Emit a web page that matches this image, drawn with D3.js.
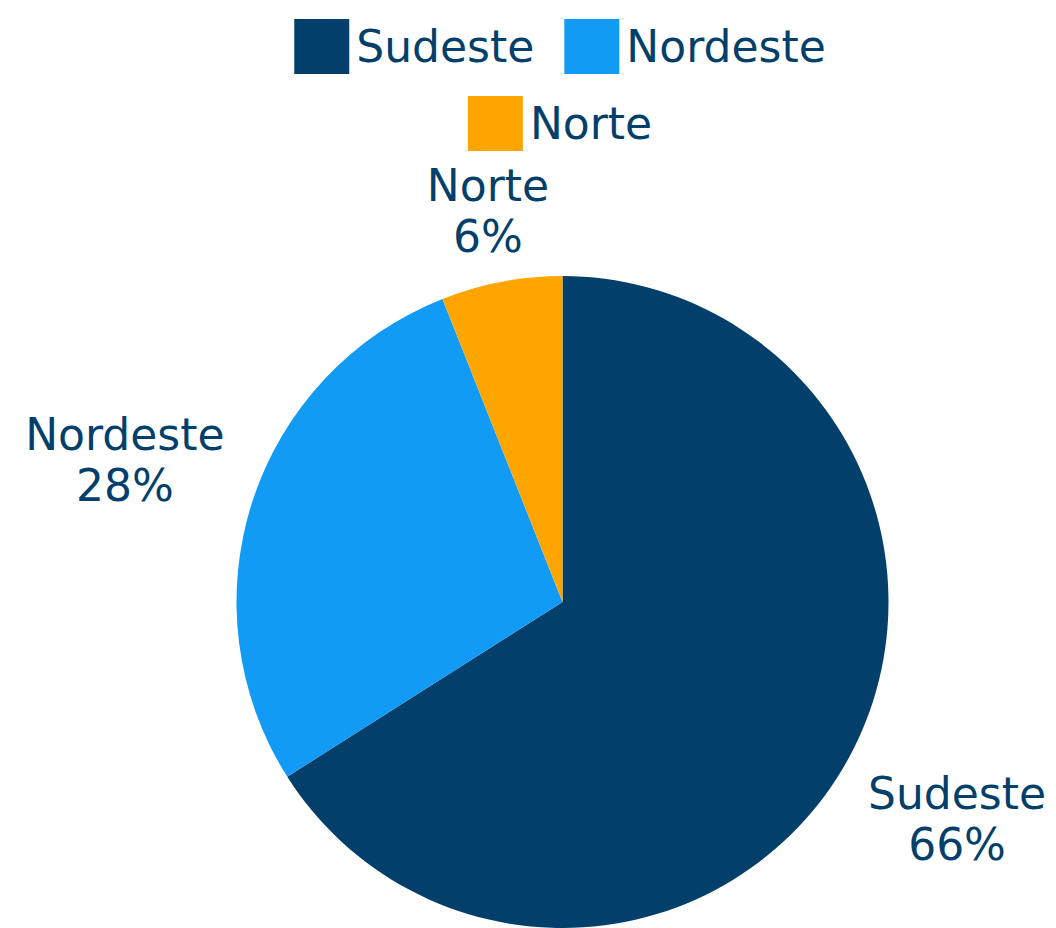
<!DOCTYPE html>
<html>
<head>
<meta charset="utf-8">
<script src="https://cdn.jsdelivr.net/npm/d3@7"></script>
<style>
    body { margin: 0; background: #fff; }
    svg { display: block; }
    text { font-family: "DejaVu Sans", sans-serif; fill: #033f6b; }
</style>
</head>
<body>
<svg id="chart" width="1056" height="928"></svg>
<script>
// chart data
const regions = ["Sudeste", "Nordeste", "Norte"];
const shares = [66, 28, 6];
const sliceColors = ["#033f6b", "#129bf5", "#ffa500"];

const width = 1056, height = 928;
const cx = 562.5, cy = 602, radius = 326;
const fontSize = 44;
const lineGap = 51;

let svg = d3.select("#chart");

let color = d3.scaleOrdinal().domain(regions).range(sliceColors);

let pie = d3.pie().sort(null).value(d => d.value);
let arc = d3.arc().innerRadius(0).outerRadius(radius);

let data = regions.map((r, i) => ({ name: r, value: shares[i] }));
let arcs = pie(data);

let pieG = svg.append("g").attr("transform", `translate(${cx},${cy})`);

pieG.selectAll("path")
    .data(arcs)
    .join("path")
    .attr("d", arc)
    .attr("fill", d => color(d.data.name));

// data labels, placed outside each slice along its mid angle
let labelG = svg.append("g");

arcs.forEach(function (a) {
    let g = labelG.append("g");
    let t = g.append("text")
        .attr("text-anchor", "middle")
        .style("font-size", fontSize + "px");
    t.append("tspan").attr("x", 0).attr("y", 0).text(a.data.name);
    t.append("tspan").attr("x", 0).attr("y", lineGap).text(a.data.value + "%");

    let bb = t.node().getBBox();
    let w = bb.width, h = 90;
    let mid = (a.startAngle + a.endAngle) / 2;
    let dx = Math.sin(mid), dy = -Math.cos(mid);
    let support = Math.abs(dx) * w / 2 + Math.abs(dy) * h / 2;
    // a bit more room at the sides than at the top
    let gap = 14 + 12 * Math.abs(dx);
    let dist = radius + gap + support;
    let lx = cx + dx * dist;
    let ly = cy + dy * dist;
    // box center -> first baseline
    g.attr("transform", `translate(${lx},${ly - lineGap / 2 + 0.35 * fontSize})`);
});

// legend
const legendMaxWidth = 640;
const swatch = 55, swatchGap = 7, itemGap = 30, rowStep = 77;
const legendCenterX = 560, legendTopY = 19;

let legendG = svg.append("g");
let items = regions.map(function (r) {
    let g = legendG.append("g");
    g.append("rect")
        .attr("width", swatch)
        .attr("height", swatch)
        .attr("fill", color(r));
    let t = g.append("text")
        .attr("x", swatch + swatchGap)
        .attr("y", swatch / 2 + 0.36 * fontSize)
        .style("font-size", fontSize + "px")
        .text(r);
    return { g: g, w: swatch + swatchGap + t.node().getComputedTextLength() };
});

let rows = [[]];
let rowW = 0;
items.forEach(function (it) {
    let add = rows[rows.length - 1].length ? itemGap + it.w : it.w;
    if (rowW + add > legendMaxWidth && rows[rows.length - 1].length) {
        rows.push([it]);
        rowW = it.w;
    } else {
        rows[rows.length - 1].push(it);
        rowW += add;
    }
});

rows.forEach(function (row, ri) {
    let total = d3.sum(row, d => d.w) + itemGap * (row.length - 1);
    let x = legendCenterX - total / 2;
    row.forEach(function (it) {
        it.g.attr("transform", `translate(${x},${legendTopY + ri * rowStep})`);
        x += it.w + itemGap;
    });
});
</script>
</body>
</html>
